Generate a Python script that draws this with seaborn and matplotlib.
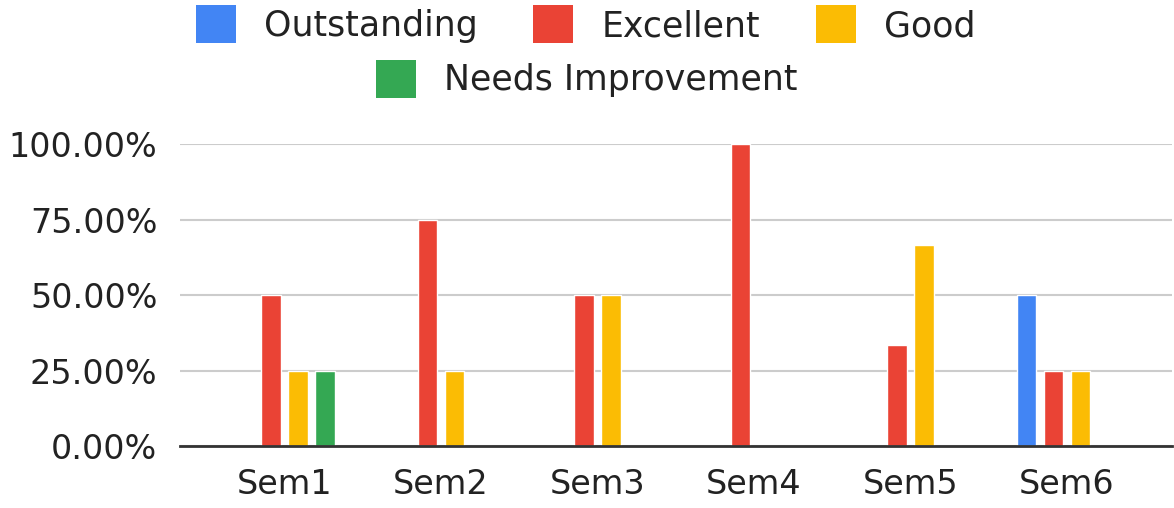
import numpy as np
import pandas as pd
import seaborn as sns
import matplotlib.pyplot as plt
from matplotlib.patches import Patch
from matplotlib.ticker import FuncFormatter

semesters = ['Sem1', 'Sem2', 'Sem3', 'Sem4', 'Sem5', 'Sem6']
grades = ['Outstanding', 'Excellent', 'Good', 'Needs Improvement']
outstanding = [0, 0, 0, 0, 0, 50]
excellent = [50, 75, 50, 100, 33.33, 25]
good = [25, 25, 50, 0, 66.67, 25]
needs_improvement = [25, 0, 0, 0, 0, 0]
colors = ['#4285F4', '#EA4335', '#FBBC04', '#34A853']

df = pd.DataFrame({
    'semester': semesters * 4,
    'grade': np.repeat(grades, len(semesters)),
    'value': outstanding + excellent + good + needs_improvement,
})

sns.set_style('white')
plt.rcParams['font.family'] = ['DejaVu Sans']

fig = plt.figure(figsize=(11.74, 5.08), dpi=100)
ax = fig.add_axes([0.153, 0.122, 0.845, 0.594])

sns.barplot(data=df, x='semester', y='value', hue='grade', order=semesters,
            hue_order=grades, palette=colors, saturation=1, width=0.69, gap=0.28,
            ax=ax, legend=False, zorder=3)

ax.set_ylim(0, 100)
ax.set_xlim(-0.67, 5.67)
ax.set_yticks([0, 25, 50, 75, 100])
ax.yaxis.set_major_formatter(FuncFormatter(lambda v, p: '{:.2f}%'.format(v)))
ax.grid(axis='y', color='#cccccc', linewidth=1.5, zorder=0)
ax.set_xlabel('')
ax.set_ylabel('')
for s in ['top', 'right', 'left']:
    ax.spines[s].set_visible(False)
ax.spines['bottom'].set_color('#333333')
ax.spines['bottom'].set_linewidth(2)
ax.spines['bottom'].set_zorder(4)
ax.tick_params(axis='y', length=0, pad=16, labelsize=24, labelcolor='#222222')
ax.tick_params(axis='x', length=0, pad=16, labelsize=24, labelcolor='#222222')

handles = [Patch(facecolor=c, edgecolor='none') for c in colors]
leg_kw = dict(loc='center', frameon=False, fontsize=25,
              handlelength=1.15, handleheight=1.3, handletextpad=0.82)
leg1 = fig.legend(handles[:3], grades[:3], bbox_to_anchor=(0.499, 0.952), ncol=3,
                  columnspacing=1.6, **leg_kw)
leg2 = fig.legend(handles[3:], grades[3:], bbox_to_anchor=(0.5, 0.845), **leg_kw)
for leg in (leg1, leg2):
    for t in leg.get_texts():
        t.set_color('#222222')

fig.savefig('out.png', dpi=100)
